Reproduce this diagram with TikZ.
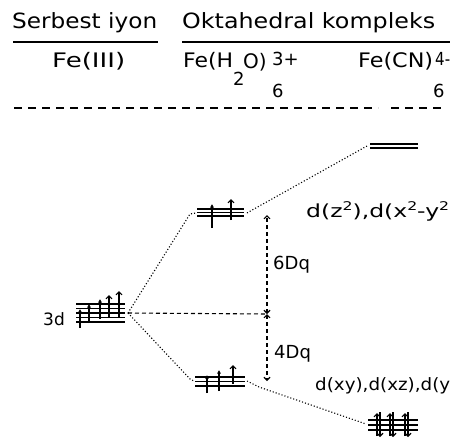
\documentclass[tikz,border=0pt]{standalone}
\usepackage{fontspec}
\setmainfont{DejaVu Sans}
\usetikzlibrary{arrows.meta}
\newcommand{\supd}[1]{\raisebox{7pt}{\fontsize{12}{12}\selectfont #1}}
\begin{document}
\begin{tikzpicture}[x=1pt,y=-1pt,
  txt/.style={inner sep=0pt,anchor=base west,font=\fontsize{20}{22}\selectfont},
  subtxt/.style={inner sep=0pt,anchor=base west,font=\fontsize{18}{20}\selectfont},
  lbl/.style={inner sep=0pt,anchor=base west,font=\fontsize{17}{19}\selectfont},
  lev/.style={line width=1.1pt},
  conn/.style={line width=1.1pt,dash pattern=on 1.1pt off 2pt},
  gapline/.style={line width=1.1pt,dash pattern=on 4pt off 3pt},
  hdash/.style={line width=1.4pt,dash pattern=on 8pt off 6pt},
  fa/.style={line width=1.1pt,-{Latex[length=3.5pt,width=4pt]}},
  oa/.style={line width=1.1pt,-{Straight Barb[length=3pt,width=6pt]}},
  dbl/.style={line width=1.1pt,dash pattern=on 4pt off 3pt,{Straight Barb[length=3pt,width=6pt]}-{Straight Barb[length=3pt,width=6pt]}}]
\useasboundingbox (0,0) rectangle (451,440);
% headers
\node[txt,font=\fontsize{21}{23}\selectfont] (hfree) at (12,28) {\resizebox{145pt}{\height}{Serbest iyon}};
\node[txt,font=\fontsize{21}{23}\selectfont] (hoct) at (182,28) {\resizebox{253pt}{\height}{Oktahedral kompleks}};
\draw[line width=1.6pt] (hfree.base west) ++(1,14) -- ++(145,0);
\draw[line width=1.6pt] (hoct.base west) ++(0,14) -- ++(268,0);
% species
\node[txt] (fe3) at (52,67) {\resizebox{73pt}{\height}{Fe(III)}};
\node[txt] (feh) at (183,67) {\resizebox{50pt}{\height}{Fe(H}};
\node[subtxt] (feh2) at (233,85) {2};
\node[txt] (feo) at (243,68) {O)};
\node[subtxt] (feh6) at (272,97) {6};
\node[subtxt] (feh3) at (272,65) {3+};
\node[txt] (fecn) at (358,67) {\resizebox{75pt}{\height}{Fe(CN)}};
\node[subtxt] (fecn6) at (433,97) {6};
\node[subtxt] (fecn4) at (435,65) {\resizebox{15pt}{\height}{4-}};
\draw[hdash] (14,108) -- (378,108);
\draw[hdash] (391,108) -- (445,108);
% free ion 3d level
\foreach \y in {304,308.5,313,317.5,322} \draw[lev] (76,\y) -- (125,\y);
\draw[fa] (80,328) -- (80,309);
\draw[fa] (89,323) -- (89,304);
\draw[fa] (100,319) -- (100,299);
\draw[oa] (109,318) -- (109,295);
\draw[oa] (119,318) -- (119,291);
\coordinate (d3R) at (128,313);
\node[lbl] (l3d) at (43,325) {3d};
% Fe(H2O) eg
\foreach \y in {209,212.5,216} \draw[lev] (197,\y) -- (244,\y);
\draw[fa] (212,228) -- (212,204);
\draw[oa] (231,220) -- (231,199);
\coordinate (egHL) at (196,213);
\coordinate (egHR) at (247,213);
% Fe(H2O) t2g
\foreach \y in {377,381.5,386} \draw[lev] (195,\y) -- (245,\y);
\draw[fa] (207,393) -- (207,375);
\draw[fa] (219,391) -- (219,370);
\draw[oa] (233,384) -- (233,365);
\coordinate (t2HL) at (194,381);
\coordinate (t2HR) at (247,381);
% Fe(CN) eg
\foreach \y in {144,148} \draw[line width=1.4pt] (370,\y) -- (418,\y);
\coordinate (egCL) at (367,146);
% Fe(CN) t2g
\foreach \y in {420,425,430} \draw[lev] (368,\y) -- (418,\y);
\foreach \x in {377,390,405} {
  \draw[oa] (\x,436) -- (\x,413);
  \draw[oa] (\x+3,412) -- (\x+3,437);
}
\coordinate (t2CL) at (366,424);
% connectors
\draw[conn] (d3R) -- (190,214) -- (egHL);
\draw[conn] (d3R) -- (190,379) -- (t2HL);
\draw[conn] (egHR) -- (254,209) -- (egCL);
\draw[conn] (t2HR) -- (259,387) -- (t2CL);
\coordinate (bary) at (267,314);
\coordinate (gtop) at (267,215);
\coordinate (gbot) at (267,381);
\draw[gapline] (d3R) -- (bary);
\draw[dbl] (bary) -- (gtop);
\draw[dbl] (bary) -- (gbot);
\node[lbl,font=\fontsize{18}{20}\selectfont] (l6) at (273,269) {6Dq};
\node[lbl,font=\fontsize{18}{20}\selectfont] (l4) at (274,358) {4Dq};
\node[lbl,font=\fontsize{18}{20}\selectfont] (leg) at (306,217) {\resizebox{143pt}{\height}{d(z\supd{2}),d(x\supd{2}-y\supd{2}}};
\node[lbl] (lt2) at (315,390) {\resizebox{135pt}{\height}{d(xy),d(xz),d(y}};
\end{tikzpicture}
\end{document}
